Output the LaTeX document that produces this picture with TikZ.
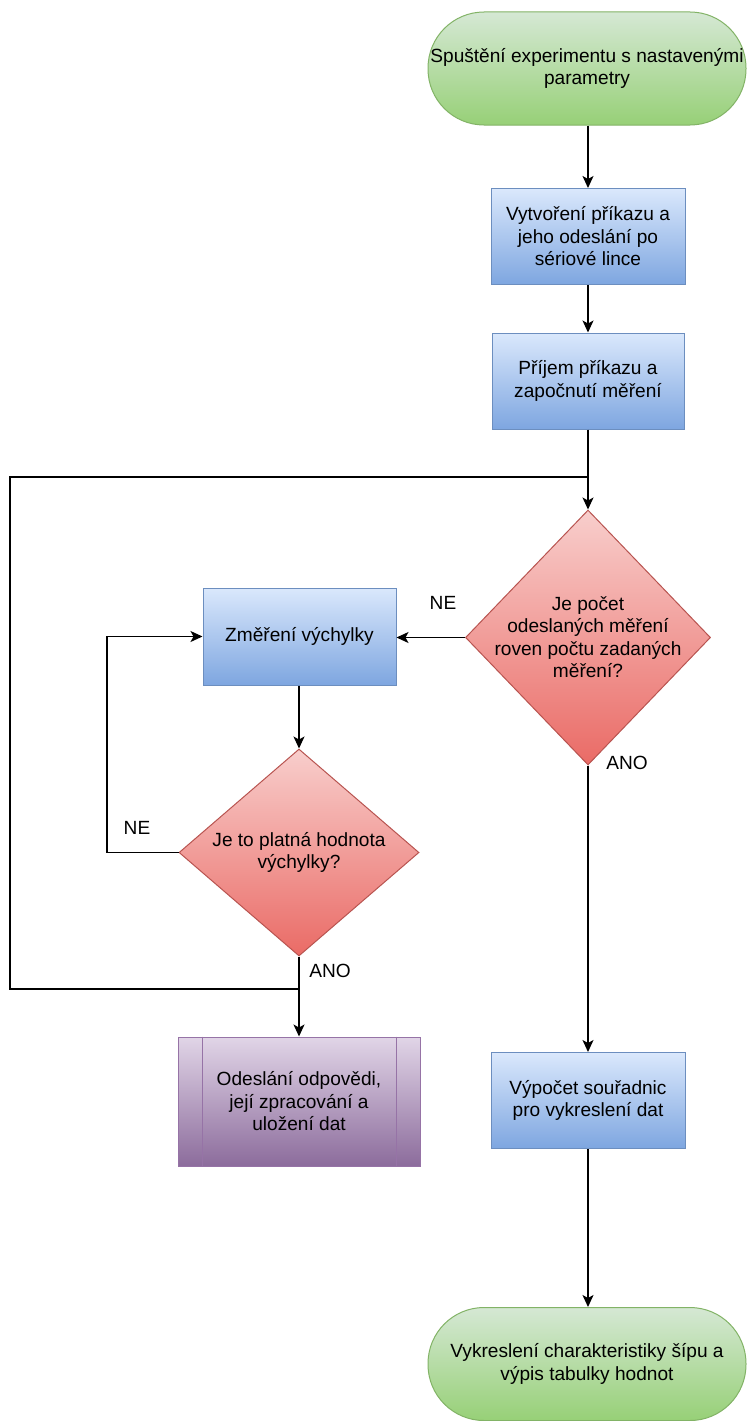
\documentclass[tikz,border=0pt]{standalone}
\usepackage{fontspec}
\setmainfont{Liberation Sans}
\usetikzlibrary{shapes.geometric,arrows.meta}
\definecolor{termdraw}{HTML}{82B366}
\definecolor{termtop}{HTML}{D5E8D4}
\definecolor{termbot}{HTML}{97D077}
\definecolor{procdraw}{HTML}{6C8EBF}
\definecolor{proctop}{HTML}{DAE8FC}
\definecolor{procbot}{HTML}{7EA6E0}
\definecolor{decdraw}{HTML}{B85450}
\definecolor{dectop}{HTML}{F8CECC}
\definecolor{decbot}{HTML}{EA6B66}
\definecolor{ppdraw}{HTML}{9673A6}
\definecolor{pptop}{HTML}{E1D5E7}
\definecolor{ppbot}{HTML}{8C6C9C}
\begin{document}
\begin{tikzpicture}[x=1pt,y=-1pt,
  every node/.style={font=\fontsize{19.1}{22.5}\selectfont, align=center},
  line/.style={draw=black, line width=1.3pt},
  arr/.style={line, -{Stealth[length=12pt,width=11pt,inset=3pt]}},
  term/.style={rectangle, rounded corners=56pt, draw=termdraw, top color=termtop, bottom color=termbot, minimum width=318pt, minimum height=113pt, inner sep=1pt, line width=1pt},
  proc/.style={rectangle, draw=procdraw, top color=proctop, bottom color=procbot, minimum width=194pt, minimum height=96pt, line width=1pt},
  dec/.style={diamond, draw=decdraw, top color=dectop, bottom color=decbot, inner sep=0pt, line width=1pt},
  pp/.style={rectangle, draw=ppdraw, top color=pptop, bottom color=ppbot, minimum width=242pt, minimum height=129pt, line width=1pt},
  ppline/.style={draw=ppdraw, line width=1pt}
]
\useasboundingbox (0,0) rectangle (747,1421);

\node[term] (start) at (587,68.5) {Spuštění experimentu s nastavenými\\parametry};
\node[proc] (b1) at (588,236.5) {Vytvoření příkazu a\\jeho odeslání po\\sériové lince};
\node[proc, minimum width=192pt] (b2) at (588,381) {Příjem příkazu a\\započnutí měření};
\node[dec, minimum width=245pt, minimum height=255pt] (d1) at (588,637.5) {};
\node (d1t) at (588,637) {Je počet\\odeslaných měření\\roven počtu zadaných\\měření?};
\node[proc, minimum width=193pt, minimum height=97pt] (m) at (299.5,636.5) {Změření výchylky};
\node[dec, minimum width=240pt, minimum height=207pt] (d2) at (299,852.5) {};
\node (d2t) at (299,852.5) {Je to platná hodnota\\výchylky?};
\node[pp] (pp) at (299,1101.5) {Odeslání odpovědi,\\její zpracování a\\uložení dat};
\draw[ppline] ([xshift=25pt]pp.north west) -- ([xshift=25pt]pp.south west);
\draw[ppline] ([xshift=-24pt]pp.north east) -- ([xshift=-24pt]pp.south east);
\node[proc] (v) at (588,1100.5) {Výpočet souřadnic\\pro vykreslení dat};
\node[term] (end) at (587,1364) {Vykreslení charakteristiky šípu a\\výpis tabulky hodnot};

\node (ne1) at (443,603) {NE};
\node (ne2) at (137,828) {NE};
\node (ano1) at (627,763) {ANO};
\node (ano2) at (330,971) {ANO};

\coordinate (loopA) at (107,852.5);
\coordinate (jA) at (299,989);
\coordinate (cL1) at (10,989);
\coordinate (cL2) at (10,477);
\coordinate (jB) at (588,477);

\draw[arr] (start.south -| b1.north) -- (b1.north);
\draw[arr] (b1) -- (b2);
\draw[arr] (b2) -- (d1);
\draw[arr] (d1.west) -- (d1.west -| m.east);
\draw[arr] (m.south -| d2.north) -- (d2.north);
\draw[arr] (d2.west) -- (loopA) |- (m.west);
\draw[arr] (d2.south) -- (pp.north);
\draw[line] (jA) -- (cL1) -- (cL2) -- (jB);
\draw[arr] (d1.south) -- (v.north);
\draw[arr] (v.south) -- (v.south |- end.north);
\end{tikzpicture}
\end{document}
